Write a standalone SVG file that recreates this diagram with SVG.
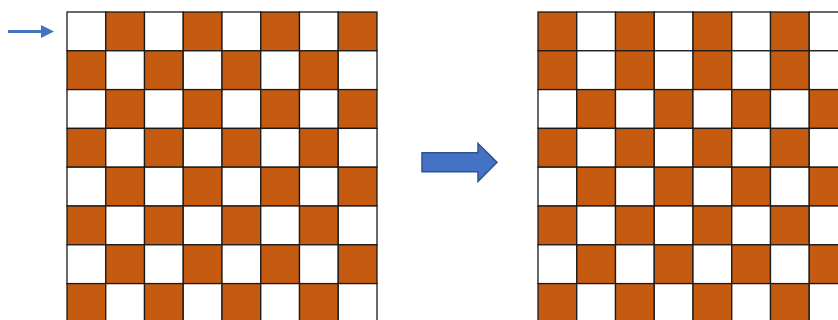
<svg xmlns="http://www.w3.org/2000/svg" xmlns:xlink="http://www.w3.org/1999/xlink" width="838" height="320" viewBox="0 0 838 320">
<defs>
<style>
.c{stroke:#1a1a1a;stroke-width:1.3}
.o{fill:#C55A11}
.w{fill:#FFFFFF}
</style>
<g id="rowA">
<rect class="c w" x="0" y="0" width="38.75" height="38.8"/>
<rect class="c o" x="38.75" y="0" width="38.75" height="38.8"/>
<rect class="c w" x="77.5" y="0" width="38.75" height="38.8"/>
<rect class="c o" x="116.25" y="0" width="38.75" height="38.8"/>
<rect class="c w" x="155" y="0" width="38.75" height="38.8"/>
<rect class="c o" x="193.75" y="0" width="38.75" height="38.8"/>
<rect class="c w" x="232.5" y="0" width="38.75" height="38.8"/>
<rect class="c o" x="271.25" y="0" width="38.75" height="38.8"/>
</g>
<g id="rowB">
<rect class="c o" x="0" y="0" width="38.75" height="38.8"/>
<rect class="c w" x="38.75" y="0" width="38.75" height="38.8"/>
<rect class="c o" x="77.5" y="0" width="38.75" height="38.8"/>
<rect class="c w" x="116.25" y="0" width="38.75" height="38.8"/>
<rect class="c o" x="155" y="0" width="38.75" height="38.8"/>
<rect class="c w" x="193.75" y="0" width="38.75" height="38.8"/>
<rect class="c o" x="232.5" y="0" width="38.75" height="38.8"/>
<rect class="c w" x="271.25" y="0" width="38.75" height="38.8"/>
</g>
</defs>
<rect x="0" y="0" width="838" height="320" fill="#fff"/>
<g id="left-grid">
<use xlink:href="#rowA" x="67" y="12"/>
<use xlink:href="#rowB" x="67" y="50.8"/>
<use xlink:href="#rowA" x="67" y="89.6"/>
<use xlink:href="#rowB" x="67" y="128.4"/>
<use xlink:href="#rowA" x="67" y="167.2"/>
<use xlink:href="#rowB" x="67" y="206"/>
<use xlink:href="#rowA" x="67" y="244.8"/>
<use xlink:href="#rowB" x="67" y="283.6"/>
</g>
<g id="right-grid">
<use xlink:href="#rowB" x="538" y="12"/>
<use xlink:href="#rowB" x="538" y="50.8"/>
<use xlink:href="#rowA" x="538" y="89.6"/>
<use xlink:href="#rowB" x="538" y="128.4"/>
<use xlink:href="#rowA" x="538" y="167.2"/>
<use xlink:href="#rowB" x="538" y="206"/>
<use xlink:href="#rowA" x="538" y="244.8"/>
<use xlink:href="#rowB" x="538" y="283.6"/>
</g>
<g id="connectors">
<g id="row-pointer">
<line x1="8" y1="31.5" x2="44" y2="31.5" stroke="#4472C4" stroke-width="3"/>
<polygon points="41,25 54,31.5 41,38" fill="#4472C4"/>
</g>
<g id="transform-arrow">
<polygon points="422,152.7 478,152.7 478,143.5 497,162.3 478,181.5 478,171.7 422,171.7" fill="#4472C4" stroke="#2F528F" stroke-width="1.5"/>
</g>
</g>
</svg>
